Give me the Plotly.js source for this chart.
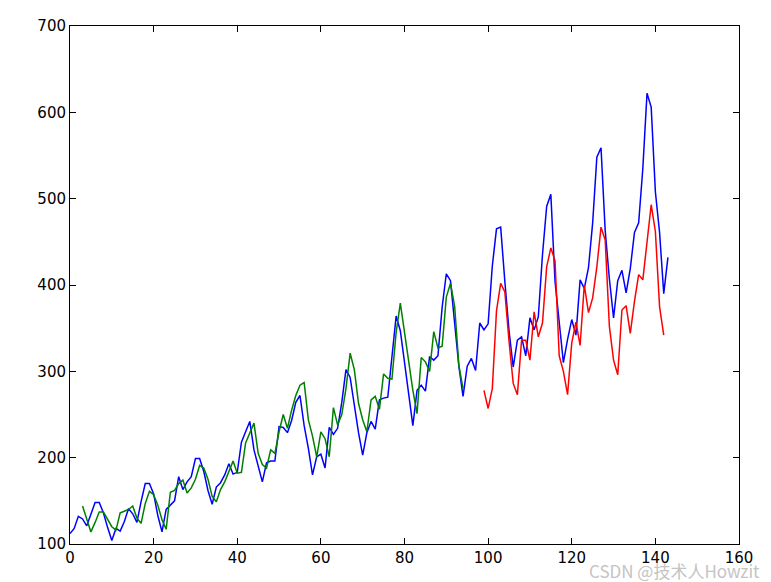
<!DOCTYPE html>
<html>
<head>
<meta charset="utf-8">
<script src="https://cdn.plot.ly/plotly-3.0.1.min.js"></script>
<style>html,body{margin:0;padding:0;background:#fff;}#chart{width:771px;height:582px;}</style>
</head>
<body>
<div id="chart"></div>
<script>
// Actual monthly passengers (blue), index 0..143
const actual = [112,118,132,129,121,135,148,148,136,119,104,118,
115,126,141,135,125,149,170,170,158,133,114,140,
145,150,178,163,172,178,199,199,184,162,146,166,
171,180,193,181,183,218,230,242,209,191,172,194,
196,196,236,235,229,243,264,272,237,211,180,201,
204,188,235,227,234,264,302,293,259,229,203,229,
242,233,267,269,270,315,364,347,312,274,237,278,
284,277,317,313,318,374,413,405,355,306,271,306,
315,301,356,348,355,422,465,467,404,347,305,336,
340,318,362,348,363,435,491,505,404,359,310,337,
360,342,406,396,420,472,548,559,463,407,362,405,
417,391,419,461,472,535,622,606,508,461,390,432];

// Train predictions (green), starting at index 3
const trainStart = 3;
const trainPred = [144,128,114,125,137,137,128,120,116,136,
138,140,144,130,124,147,161,157,145,128,
117,160,162,170,174,159,165,175,191,188,
175,155,149,163,172,185,196,182,183,217,
228,240,205,192,188,209,205,230,250,234,
255,272,284,287,244,225,201,230,222,201,
258,238,250,280,321,302,263,244,230,267,
271,256,297,292,291,345,379,344,313,278,
251,316,311,300,346,327,329,386,402,375,
307,280];

// Test predictions (red), starting at index 99
const testStart = 99;
const testPred = [278,257,280,370,402,392,335,286,273,336,
336,313,369,340,356,421,443,428,318,300,
273,333,357,330,400,368,385,421,467,452,
352,313,296,371,376,344,381,412,406,448,
493,462,375,342];

const idx = (start, arr) => arr.map((_, i) => start + i);

const traces = [
  {x: idx(0, actual), y: actual, type: 'scatter', mode: 'lines',
   line: {color: '#0000ff', width: 1.5}, hoverinfo: 'skip'},
  {x: idx(trainStart, trainPred), y: trainPred, type: 'scatter', mode: 'lines',
   line: {color: '#008000', width: 1.5}, hoverinfo: 'skip'},
  {x: idx(testStart, testPred), y: testPred, type: 'scatter', mode: 'lines',
   line: {color: '#ff0000', width: 1.5}, hoverinfo: 'skip'}
];

const axisCommon = {
  showline: true, linecolor: '#000', linewidth: 1, mirror: 'allticks',
  ticks: 'inside', ticklen: 6, tickcolor: '#000', tickwidth: 1,
  showgrid: false, zeroline: false,
  tickfont: {family: 'DejaVu Sans', size: 15, color: '#000'}
};

const layout = {
  width: 771, height: 582,
  margin: {l: 70, r: 32, t: 26, b: 38},
  paper_bgcolor: '#fff', plot_bgcolor: '#fff',
  showlegend: false,
  xaxis: Object.assign({}, axisCommon, {range: [0, 160], tickmode: 'linear', tick0: 0, dtick: 20}),
  yaxis: Object.assign({}, axisCommon, {range: [100, 700], tickmode: 'linear', tick0: 100, dtick: 100}),
  annotations: [{
    text: 'CSDN @技术人Howzit', xref: 'paper', yref: 'paper',
    x: 1.035, y: -0.052, xanchor: 'right', yanchor: 'middle', showarrow: false,
    font: {family: 'Noto Sans CJK SC', size: 17, color: '#c4c4c4'}
  }]
};

Plotly.newPlot('chart', traces, layout, {staticPlot: true, displayModeBar: false});
</script>
</body>
</html>
